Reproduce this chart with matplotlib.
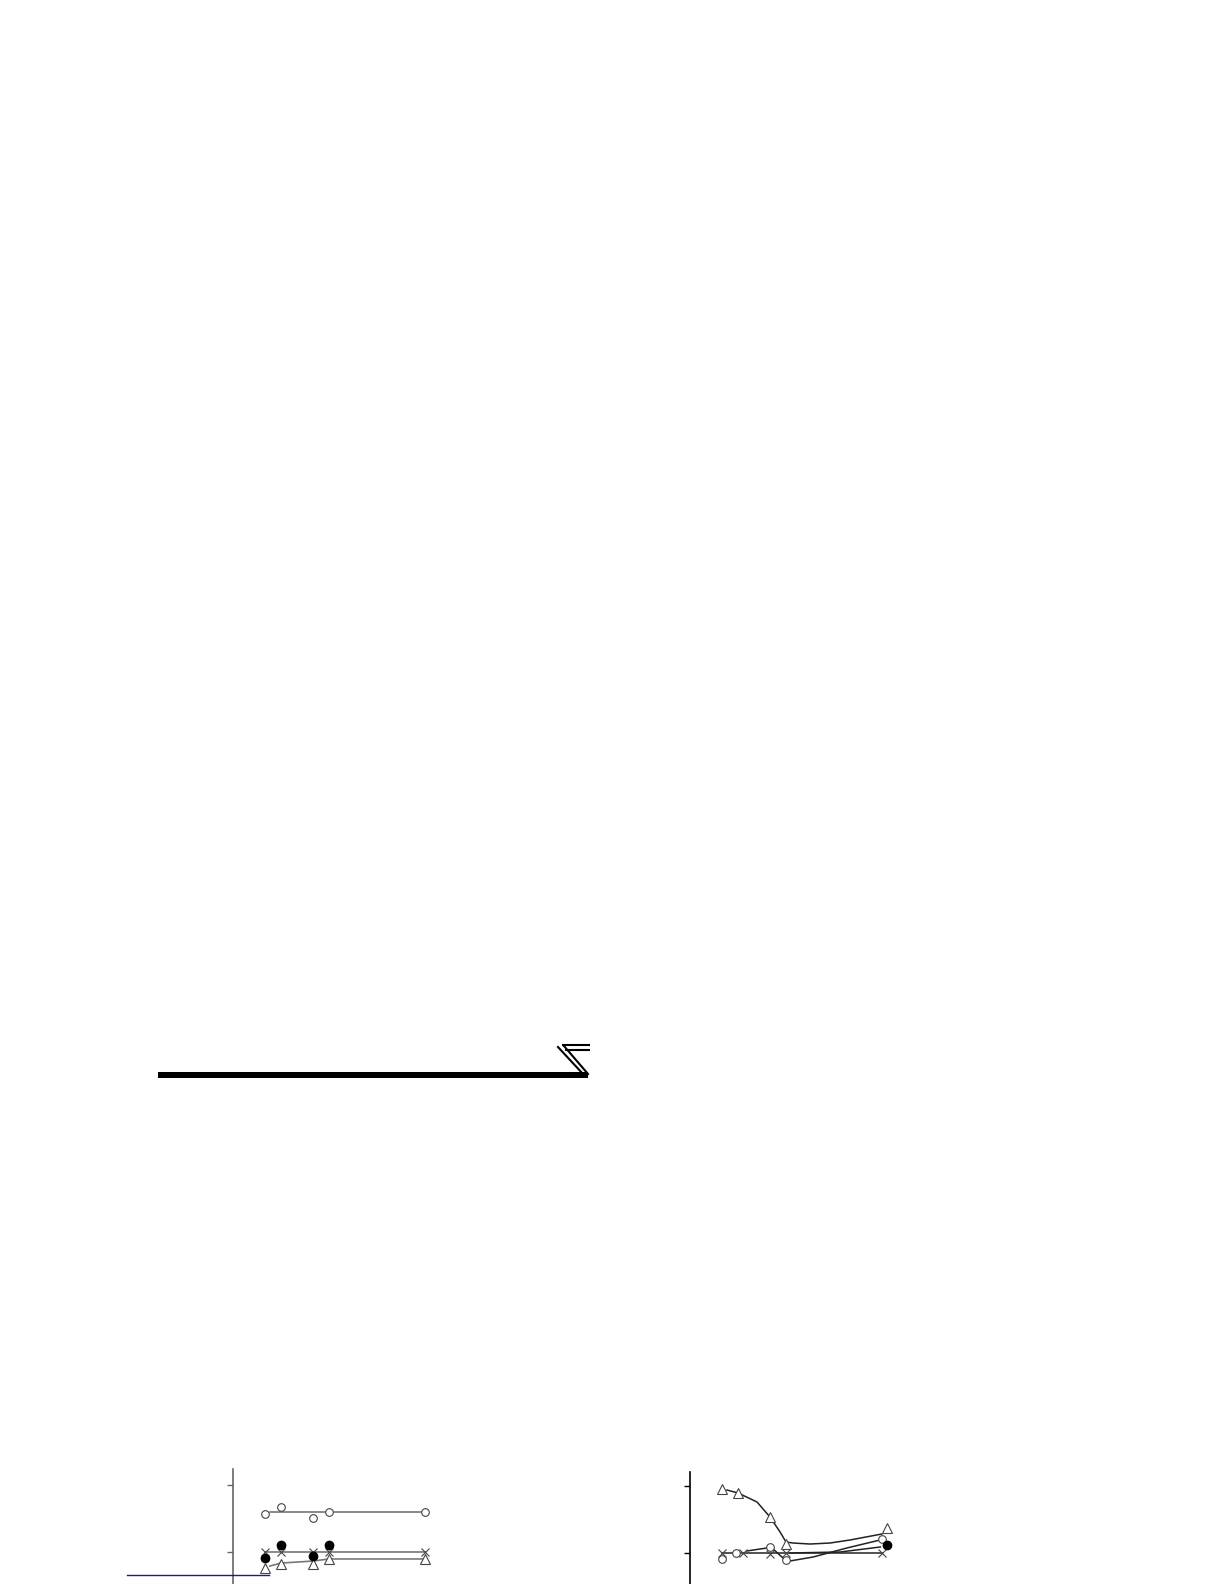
import numpy as np
import matplotlib.pyplot as plt

# ---------------- data ----------------
# left chart
l_open_x = [1, 2, 4, 5, 11]
l_open_y = [1.567, 1.672, 1.507, 1.597, 1.597]
l_open_fit_x = [1.3, 11]
l_open_fit_y = [1.597, 1.597]

l_cross_x = [1, 2, 4, 5, 11]
l_cross_y = [1.0, 1.0, 1.0, 1.0, 1.0]

l_fill_x = [1, 2, 4, 5]
l_fill_y = [0.910, 1.104, 0.940, 1.104]

l_tri_x = [1, 2, 4, 5, 11]
l_tri_y = [0.761, 0.821, 0.821, 0.896, 0.896]
l_tri_line_x = [1.3, 2, 4, 5, 11]
l_tri_line_y = [0.79, 0.835, 0.865, 0.896, 0.896]

# right chart
r_tri_x = [1, 2, 4, 5, 11.3]
r_tri_y = [1.955, 1.896, 1.537, 1.134, 1.373]
r_tri_curve_x = [1.31, 2.0, 3.19, 4.0, 4.63, 5.0, 5.44, 6.5, 7.75, 9.0, 10.0, 11.0]
r_tri_curve_y = [1.94, 1.896, 1.761, 1.537, 1.313, 1.164, 1.149, 1.134, 1.149, 1.194, 1.239, 1.284]

r_open_x = [1, 1.875, 4, 5, 11]
r_open_y = [0.910, 1.0, 1.090, 0.896, 1.209]
r_open_curve_x = [2.56, 3.81, 4.13, 4.88, 5.25, 6.69, 8.81, 10.88]
r_open_curve_y = [1.030, 1.075, 1.075, 0.910, 0.881, 0.940, 1.075, 1.194]

r_cross_x = [1, 2.31, 4, 5, 11]
r_cross_y = [1.0, 1.0, 0.985, 1.0, 1.0]
r_cross_line_x = [1, 11]
r_cross_line_y = [1.0, 1.0]

r_fill_x = [11.3]
r_fill_y = [1.119]
r_fill_line_x = [5.25, 8.4, 10.9]
r_fill_line_y = [1.0, 1.015, 1.09]

y_ticks = [1, 2]

W, H = 1224, 1584
fig = plt.figure(figsize=(W / 100, H / 100), dpi=100)


def setup(ax, color):
    for s in ['top', 'right', 'bottom']:
        ax.spines[s].set_visible(False)
    ax.spines['left'].set_color(color)
    ax.spines['left'].set_linewidth(1.2)
    ax.set_xticks([])
    ax.set_yticks(y_ticks)
    ax.set_yticklabels([])
    ax.tick_params(axis='y', direction='out', length=4, width=1, colors=color)
    ax.patch.set_alpha(0)


# ---------------- left chart ----------------
axl = fig.add_axes([233 / W, 0, (620 - 233) / W, (H - 1469) / H])
setup(axl, '#666666')
axl.set_xlim(-1, -1 + 387 / 16)
axl.set_ylim(1 - 32 / 67, 1 + 83 / 67)
gray = '#777777'
axl.plot(l_open_fit_x, l_open_fit_y, color=gray, lw=1.2)
axl.plot(l_open_x, l_open_y, ls='none', marker='o', ms=5.5, mfc='white', mec='#444444', mew=0.8)
axl.plot(l_cross_x, l_cross_y, color=gray, lw=1.2)
axl.plot(l_cross_x, l_cross_y, ls='none', marker='x', ms=6, mec='#444444', mew=0.8)
axl.plot(l_tri_line_x, l_tri_line_y, color=gray, lw=1.2)
axl.plot(l_tri_x, l_tri_y, ls='none', marker='^', ms=7, mfc='white', mec='#444444', mew=0.8)
axl.plot(l_fill_x, l_fill_y, ls='none', marker='o', ms=6, color='black')

# ---------------- right chart ----------------
axr = fig.add_axes([690 / W, 0, (1000 - 690) / W, (H - 1472) / H])
setup(axr, 'black')
axr.set_xlim(-1, -1 + 310 / 16)
axr.set_ylim(1 - 31 / 67, 1 + 81 / 67)
axr.plot(r_tri_curve_x, r_tri_curve_y, color='#222222', lw=1.1)
axr.plot(r_open_curve_x, r_open_curve_y, color='#222222', lw=1.1)
axr.plot(r_cross_line_x, r_cross_line_y, color='#222222', lw=1.1)
axr.plot(r_fill_line_x, r_fill_line_y, color='#222222', lw=1.1)
axr.plot(r_tri_x, r_tri_y, ls='none', marker='^', ms=7, mfc='white', mec='#444444', mew=0.8)
axr.plot(r_open_x, r_open_y, ls='none', marker='o', ms=5.5, mfc='white', mec='#444444', mew=0.8)
axr.plot(r_cross_x, r_cross_y, ls='none', marker='x', ms=6, mec='#444444', mew=0.8)
axr.plot(r_fill_x, r_fill_y, ls='none', marker='o', ms=6, color='black')

# ---------------- page decorations (pixel space) ----------------
deco = fig.add_axes([0, 0, 1, 1])
deco.set_xlim(0, W)
deco.set_ylim(H, 0)
deco.axis('off')
deco.patch.set_alpha(0)
# header rule and mark
deco.fill_between([158, 588], 1072, 1077.5, color='black', lw=0)
deco.plot([562, 590], [1045, 1045], color='black', lw=1.5, solid_capstyle='butt')
deco.plot([565, 590], [1050, 1050], color='black', lw=1.5, solid_capstyle='butt')
deco.plot([558, 583], [1047, 1074], color='black', lw=1.5)
deco.plot([564, 588], [1046, 1074], color='black', lw=1.5)
# blue rule across left chart
deco.plot([127, 269], [1575, 1575], color='#1a1a8c', lw=1)

fig.savefig('out.png', dpi=100)
